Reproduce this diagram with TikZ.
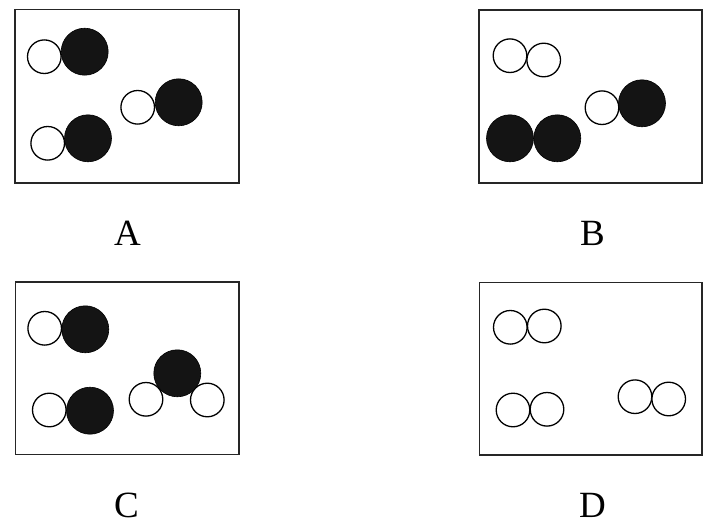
\documentclass[tikz,border=0pt]{standalone}
\usepackage{fontspec}
\setmainfont{Liberation Serif}
\begin{document}
\begin{tikzpicture}[x=1pt,y=-1pt,
  frame/.style={draw=black!85,line width=1.4pt},
  wh/.style={circle,draw=black,line width=1.3pt,fill=white,minimum size=33.6pt,inner sep=0pt},
  bk/.style={circle,draw=black,line width=0.6pt,fill=black!92,minimum size=47pt,inner sep=0pt},
  lab/.style={font=\fontsize{37}{40}\selectfont,inner sep=0pt}]
\useasboundingbox (0,0) rectangle (713,530);
% frames
\draw[frame] (15,9.5) rectangle (239,183);
\draw[frame] (479,10) rectangle (702,183);
\draw[frame] (15.5,282) rectangle (239,454.5);
\draw[frame] (479.5,282.5) rectangle (702,455);
% A
\node[wh] (a1w) at (44.3,56.7) {};
\node[bk] (a1b) at (84.7,51.7) {};
\node[wh] (a2w) at (137.7,107.3) {};
\node[bk] (a2b) at (178.7,102.3) {};
\node[wh] (a3w) at (47.7,143.3) {};
\node[bk] (a3b) at (88,138.3) {};
% B
\node[wh] (b1w) at (510,55.7) {};
\node[wh] (b2w) at (543.7,60) {};
\node[wh] (b3w) at (602,107.7) {};
\node[bk] (b3b) at (642,103.3) {};
\node[bk] (b1b) at (510,138.3) {};
\node[bk] (b2b) at (557.3,138.3) {};
% C
\node[wh] (c1w) at (44.7,328.3) {};
\node[bk] (c1b) at (85.3,329.3) {};
\node[wh] (c2w) at (49.3,410) {};
\node[bk] (c2b) at (90,410.7) {};
\node[wh] (c3w) at (146,399.3) {};
\node[wh] (c4w) at (207.3,400) {};
\node[bk] (c3b) at (177.3,373.3) {};
% D
\node[wh] (d1w) at (510.3,327.3) {};
\node[wh] (d2w) at (544.3,326) {};
\node[wh] (d3w) at (513,410) {};
\node[wh] (d4w) at (547,409.3) {};
\node[wh] (d5w) at (635,396.7) {};
\node[wh] (d6w) at (668.7,399) {};
% labels
\node[lab] (la) at (127.5,233) {A};
\node[lab] (lb) at (592.5,233) {B};
\node[lab] (lc) at (126.5,505.5) {C};
\node[lab] (ld) at (592.5,505) {D};
\end{tikzpicture}
\end{document}
